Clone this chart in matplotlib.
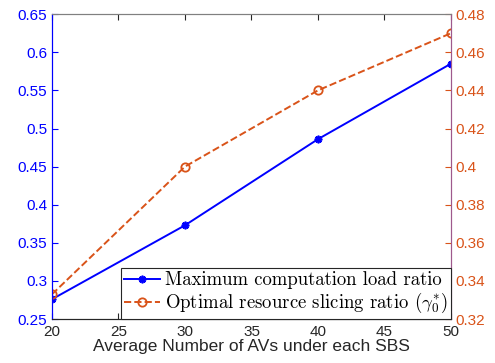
import matplotlib.pyplot as plt

num_avs = [20, 30, 40, 50]
max_load_ratio = [0.276, 0.373, 0.486, 0.585]
slicing_ratio = [0.333, 0.400, 0.440, 0.470]

xticks = [20, 25, 30, 35, 40, 45, 50]
left_ticks = [0.25, 0.3, 0.35, 0.4, 0.45, 0.5, 0.55, 0.6, 0.65]
right_ticks = [0.32, 0.34, 0.36, 0.38, 0.4, 0.42, 0.44, 0.46, 0.48]

blue = (0, 0, 1)
orange = (0.85, 0.325, 0.098)

plt.rcParams['font.family'] = ['Liberation Sans', 'DejaVu Sans']
plt.rcParams['mathtext.fontset'] = 'cm'

fig = plt.figure(figsize=(4.95, 3.63), dpi=100)
ax = fig.add_axes([0.105, 0.121, 0.806, 0.840])
ax2 = ax.twinx()

# MATLAB-style asterisk marker for the blue series
l1, = ax.plot(num_avs, max_load_ratio, '-', marker=(8, 2, 0), color=blue, lw=1.4, ms=5.5, mew=1.3,
              label='Maximum computation load ratio')
l2, = ax2.plot(num_avs, slicing_ratio, '--o', color=orange, lw=1.4, ms=6,
               mfc='none', mew=1.3, label=r'Optimal resource slicing ratio ($\gamma_0^{*}$)')

ax.set_xlim(20, 50)
ax.set_ylim(0.25, 0.65)
ax2.set_ylim(0.32, 0.48)
ax.set_xticks(xticks)
ax.set_xticklabels([str(v) for v in xticks])
ax.set_yticks(left_ticks)
ax.set_yticklabels(['%g' % v for v in left_ticks])
ax2.set_yticks(right_ticks)
ax2.set_yticklabels(['%g' % v for v in right_ticks])

ax.tick_params(axis='x', direction='in', top=True, labelsize=11, colors=(0.15, 0.15, 0.15), length=4, pad=4)
ax.tick_params(axis='y', direction='in', labelsize=11, colors=blue, length=4)
ax2.tick_params(axis='y', direction='in', labelsize=11, colors=orange, length=4)

ax.set_xlabel('Average Number of AVs under each SBS', fontsize=12.5, color=(0.15, 0.15, 0.15), labelpad=0)

for a in (ax, ax2):
    a.spines['top'].set_color((0.5, 0.5, 0.5))
    a.spines['bottom'].set_color((0.15, 0.15, 0.15))
    a.spines['left'].set_color(blue)
    a.spines['right'].set_color((0.62, 0.35, 0.55))

leg = ax2.legend(handles=[l1, l2], loc='lower right', borderaxespad=0, fancybox=False,
                 framealpha=1, edgecolor=(0.15, 0.15, 0.15), handlelength=1.9, handletextpad=0.25,
                 borderpad=0.2, labelspacing=0.1,
                 prop={'family': 'cmr10', 'size': 13.5})
leg.get_frame().set_linewidth(0.8)

fig.savefig('out.png', dpi=100)
